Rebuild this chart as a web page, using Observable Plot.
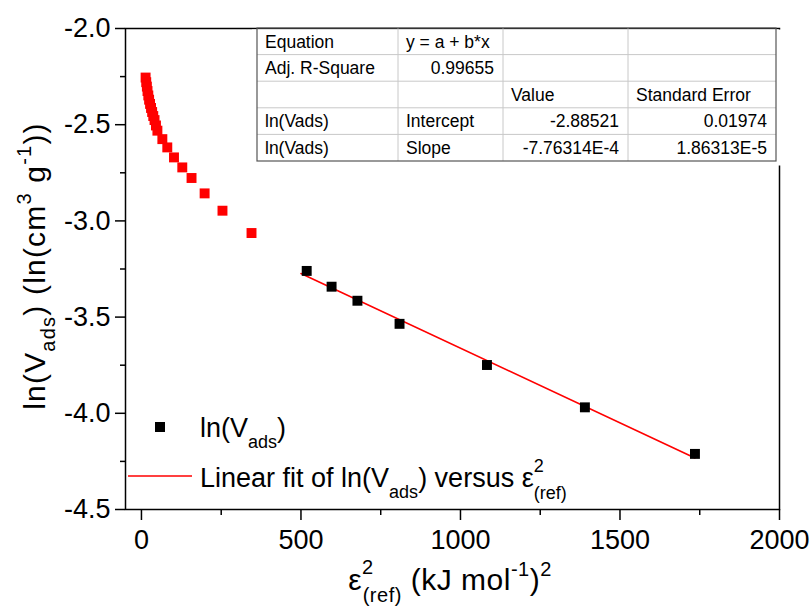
<!DOCTYPE html>
<html><head><meta charset="utf-8">
<script src="https://cdn.jsdelivr.net/npm/d3@7"></script>
<script src="https://cdn.jsdelivr.net/npm/@observablehq/plot@0.6"></script>
<style>
body{margin:0;background:#fff;}
#chart{width:811px;height:609px;}
</style>
</head><body><div id="chart"></div>
<script>
// Red (non-fitted) points
const redX = [13, 15, 17, 19, 21.5, 24, 27, 30, 33.5, 37, 41, 45.5, 50, 65.5, 81, 102, 128, 157, 198, 254, 345];
const redY = [-2.255, -2.279, -2.302, -2.325, -2.348, -2.37, -2.392, -2.413, -2.434, -2.455, -2.476, -2.504, -2.531, -2.575, -2.618, -2.670, -2.722, -2.777, -2.857, -2.947, -3.063];
// Black (fitted) points
const blackX = [518, 596, 677, 809, 1083, 1390, 1735];
const blackY = [-3.260, -3.342, -3.415, -3.535, -3.749, -3.969, -4.211];
// Linear fit endpoints
const fitX = [500, 1735];
const fitY = [-3.2734, -4.2321];
// Ticks
const xMajor = [0, 500, 1000, 1500, 2000];
const xMinor = [250, 750, 1250, 1750];
const yMajor = [-4.5, -4.0, -3.5, -3.0, -2.5, -2.0];
const yMinor = [-4.25, -3.75, -3.25, -2.75, -2.25];
// Fit table
const tableRows = [
  ["Equation", "y = a + b*x", "", ""],
  ["Adj. R-Square", "0.99655", "", ""],
  ["", "", "Value", "Standard Error"],
  ["ln(Vads)", "Intercept", "-2.88521", "0.01974"],
  ["ln(Vads)", "Slope", "-7.76314E-4", "1.86313E-5"]
];
const tableAlign = [
  ["start", "start", "start", "start"],
  ["start", "end", "start", "start"],
  ["start", "start", "start", "start"],
  ["start", "start", "end", "end"],
  ["start", "start", "end", "end"]
];

const red = redX.map((x, i) => ({x, y: redY[i]}));
const black = blackX.map((x, i) => ({x, y: blackY[i]}));
const fit = fitX.map((x, i) => ({x, y: fitY[i]}));

const FONT = "'Liberation Sans', Arial, sans-serif";
const FS = 27;

const plot = Plot.plot({
  width: 811, height: 609,
  marginLeft: 125, marginRight: 32, marginTop: 28, marginBottom: 100,
  style: {fontFamily: FONT, fontSize: FS + "px", color: "#000", background: "#fff"},
  x: {domain: [-50, 2000]},
  y: {domain: [-4.5, -2.0]},
  marks: [
    Plot.axisX(xMajor, {tickSize: 11, tickPadding: 9, label: null, strokeWidth: 1.5, fontSize: FS, tickFormat: d => String(d)}),
    Plot.axisX(xMinor, {tickSize: 6, text: null, label: null, strokeWidth: 1.5}),
    Plot.axisY(yMajor, {tickSize: 10, tickPadding: 5, label: null, strokeWidth: 1.5, fontSize: FS, tickFormat: d => d.toFixed(1)}),
    Plot.axisY(yMinor, {tickSize: 5, text: null, label: null, strokeWidth: 1.5}),
    Plot.frame({stroke: "#000", strokeWidth: 1.5}),
    Plot.line(fit, {x: "x", y: "y", stroke: "#ff0000", strokeWidth: 1.6}),
    Plot.dot(red, {x: "x", y: "y", symbol: "square", r: 5.6, fill: "#ff0000", stroke: "none"}),
    Plot.dot(black, {x: "x", y: "y", symbol: "square", r: 5.6, fill: "#000", stroke: "none"})
  ]
});
document.getElementById("chart").appendChild(plot);

const svg = d3.select(plot);

// ---- Fit table ----
const colX = [257, 398, 503, 628, 776];
const rowTop = 28, rowH = 26.6;
const tg = svg.append("g").attr("font-family", FONT).attr("font-size", 17.5).attr("text-anchor", "start");
tg.append("rect").attr("x", 252).attr("y", 29.5).attr("width", 534).attr("height", 136).attr("fill", "#fff");
for (let i = 1; i < 5; i++) {
  tg.append("line").attr("x1", colX[0]).attr("x2", colX[4])
    .attr("y1", rowTop + i * rowH).attr("y2", rowTop + i * rowH)
    .attr("stroke", "#c8c8c8").attr("stroke-width", 1);
}
for (let j = 1; j < 4; j++) {
  tg.append("line").attr("x1", colX[j]).attr("x2", colX[j])
    .attr("y1", rowTop).attr("y2", rowTop + 5 * rowH)
    .attr("stroke", "#c8c8c8").attr("stroke-width", 1);
}
tg.append("rect").attr("x", colX[0]).attr("y", rowTop).attr("width", colX[4] - colX[0]).attr("height", 5 * rowH)
  .attr("fill", "none").attr("stroke", "#555").attr("stroke-width", 1.2);
tableRows.forEach((row, i) => {
  row.forEach((t, j) => {
    if (!t) return;
    const a = tableAlign[i][j];
    tg.append("text")
      .attr("x", a === "end" ? colX[j + 1] - 9 : colX[j] + 8)
      .attr("y", rowTop + (i + 0.5) * rowH)
      .attr("dy", "0.36em")
      .attr("text-anchor", a)
      .attr("fill", "#000")
      .text(t);
  });
});

// ---- Legend ----
const lg = svg.append("g").attr("font-family", FONT).attr("font-size", FS).attr("fill", "#000").attr("text-anchor", "start");
lg.append("rect").attr("x", 155).attr("y", 422).attr("width", 10).attr("height", 10).attr("fill", "#000");
const l1 = lg.append("text").attr("x", 200).attr("y", 437);
l1.append("tspan").text("ln(V");
l1.append("tspan").attr("dy", 11).attr("font-size", 18).text("ads");
l1.append("tspan").attr("dy", -11).text(")");
lg.append("line").attr("x1", 128).attr("x2", 192).attr("y1", 476).attr("y2", 476).attr("stroke", "#ff0000").attr("stroke-width", 1.6);
const l2 = lg.append("text").attr("x", 200).attr("y", 487);
l2.append("tspan").text("Linear fit of ln(V");
l2.append("tspan").attr("dy", 11).attr("font-size", 18).text("ads");
l2.append("tspan").attr("dy", -11).text(") versus ε");
l2.append("tspan").attr("dy", -15).attr("font-size", 18).text("2");
l2.append("tspan").attr("dx", -10).attr("dy", 27).attr("font-size", 18).text("(ref)");

// ---- X title ----
const xt = svg.append("text").attr("font-family", FONT).attr("font-size", 30).attr("fill", "#000")
  .attr("letter-spacing", 0.5)
  .attr("x", 450).attr("y", 590).attr("text-anchor", "middle");
xt.append("tspan").text("ε");
xt.append("tspan").attr("dy", -16).attr("font-size", 20).text("2");
xt.append("tspan").attr("dx", -11).attr("dy", 28).attr("font-size", 20).text("(ref)");
xt.append("tspan").attr("dy", -12).text(" (kJ mol");
xt.append("tspan").attr("dy", -14).attr("font-size", 20).text("-1");
xt.append("tspan").attr("dy", 14).text(")");
xt.append("tspan").attr("dy", -14).attr("font-size", 20).text("2");

// ---- Y title ----
const yt = svg.append("text").attr("font-family", FONT).attr("font-size", 30).attr("fill", "#000")
  .attr("letter-spacing", 1.2)
  .attr("transform", "translate(45,266) rotate(-90)").attr("text-anchor", "middle");
yt.append("tspan").text("ln(V");
yt.append("tspan").attr("dy", 10).attr("font-size", 20).text("ads");
yt.append("tspan").attr("dy", -10).text(") (ln(cm");
yt.append("tspan").attr("dy", -14).attr("font-size", 20).text("3");
yt.append("tspan").attr("dy", 14).text(" g");
yt.append("tspan").attr("dy", -14).attr("font-size", 20).text("-1");
yt.append("tspan").attr("dy", 14).text("))");
</script>
</body></html>
